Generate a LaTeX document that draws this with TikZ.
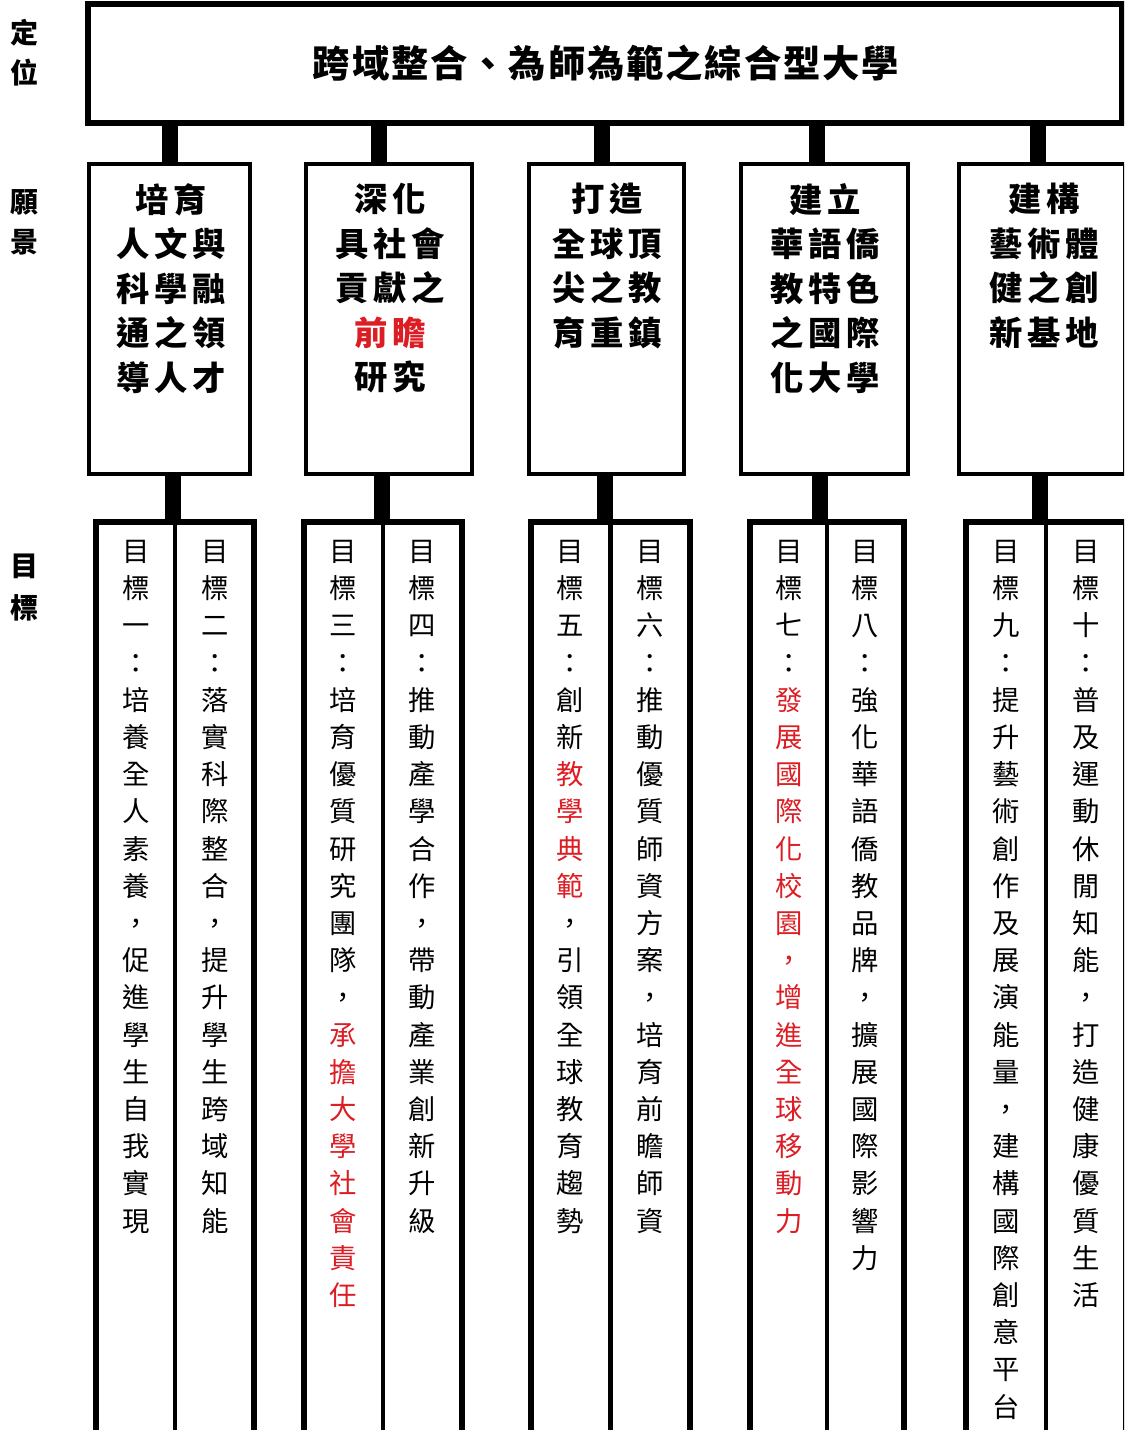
\documentclass[tikz,border=0pt]{standalone}
\usepackage{fontspec}
\setmainfont{Noto Sans CJK TC}
\usetikzlibrary{calc}
\definecolor{myred}{RGB}{220,30,36}
\newcommand\R[1]{\textcolor{myred}{#1}}
\makeatletter
\newcommand\vstack[1]{\@tfor\vchar:=#1\do{\vchar\\}}
\newcommand\vstackred[1]{\@tfor\vchar:=#1\do{\R{\vchar}\\}}
\makeatother
\begin{document}
\begin{tikzpicture}[x=0.75pt,y=-0.75pt,
 topbox/.style={draw,line width=3.8pt,inner sep=0,outer sep=0,minimum width=775.5pt,minimum height=89.25pt},
 visbox/.style={draw,line width=3pt,inner sep=0,outer sep=0,minimum height=232.5pt},
 pairbox/.style={draw,line width=4.3pt,inner sep=0,outer sep=0,minimum height=703.5pt},
 divider/.style={line width=3.3pt},
 stem/.style={line width=11.3pt},
 lbl/.style={font=\bfseries\fontsize{21}{30}\selectfont,align=center,anchor=north,inner sep=0},
 vistext/.style={font=\bfseries\fontsize{25}{33.4}\selectfont\addfontfeature{LetterSpace=14},align=center,anchor=north,inner sep=0,xshift=0.8pt},
 goaltext/.style={font=\fontsize{20.5}{27.9}\selectfont,align=center,anchor=north,inner sep=0},
 titletext/.style={font=\bfseries\fontsize{28}{36}\selectfont\addfontfeature{LetterSpace=5},inner sep=0,xshift=0pt}
]
\useasboundingbox (0,0) rectangle (1124,1430);
\clip (0,0) rectangle (1124,1430);
\fill[white] (0,0) rectangle (1124,1430);

% top box
\node[topbox] (top) at (605,63.5) {};
\node[titletext] (title) at (606,63) {跨域整合、為師為範之綜合型大學};

% vision boxes
\node[visbox,minimum width=120.75pt] (v1) at (169.5,319) {};
\node[visbox,minimum width=124.5pt] (v2) at (389,319) {};
\node[visbox,minimum width=116.25pt] (v3) at (606.5,319) {};
\node[visbox,minimum width=125.25pt] (v4) at (824.5,319) {};
\node[visbox,minimum width=124.5pt] (v5) at (1042,319) {};

\node[vistext] (vt1) at (170,183) {培育\\人文與\\科學融\\通之領\\導人才};
\node[vistext] (vt2) at (389,183) {深化\\具社會\\貢獻之\\\R{前瞻}\\研究};
\node[vistext] (vt3) at (606.5,183) {打造\\全球頂\\尖之教\\育重鎮};
\node[vistext] (vt4) at (824,183) {建立\\華語僑\\教特色\\之國際\\化大學};
\node[vistext] (vt5) at (1043,183) {建構\\藝術體\\健之創\\新基地};

% goal pair boxes
\node[pairbox,minimum width=118.5pt] (p1) at (175,991) {};
\node[pairbox,minimum width=118.5pt] (p2) at (383,991) {};
\node[pairbox,minimum width=119.25pt] (p3) at (610.5,991) {};
\node[pairbox,minimum width=115.5pt] (p4) at (827,991) {};
\node[pairbox,minimum width=120pt] (p5) at (1046,991) {};
\foreach \p in {p1,p2,p3,p4,p5} {\draw[divider] (\p.north) -- (\p.south);}

% stems
\coordinate (a1) at (170,0);
\coordinate (a2) at (379,0);
\coordinate (a3) at (602,0);
\coordinate (a4) at (817,0);
\coordinate (a5) at (1038,0);
\coordinate (b1) at (173,0);
\coordinate (b2) at (382,0);
\coordinate (b3) at (605,0);
\coordinate (b4) at (820,0);
\coordinate (b5) at (1040,0);
\draw[stem] (top.south -| a1) -- (v1.north -| a1);
\draw[stem] (top.south -| a2) -- (v2.north -| a2);
\draw[stem] (top.south -| a3) -- (v3.north -| a3);
\draw[stem] (top.south -| a4) -- (v4.north -| a4);
\draw[stem] (top.south -| a5) -- (v5.north -| a5);
\draw[stem] (v1.south -| b1) -- (p1.north -| b1);
\draw[stem] (v2.south -| b2) -- (p2.north -| b2);
\draw[stem] (v3.south -| b3) -- (p3.north -| b3);
\draw[stem] (v4.south -| b4) -- (p4.north -| b4);
\draw[stem] (v5.south -| b5) -- (p5.north -| b5);

% left labels
\node[lbl] (l1) at (24,19) {定\\位};
\node[lbl] (l2) at (24,189) {願\\景};
\node[lbl,font=\bfseries\fontsize{21}{31.5}\selectfont] (l3) at (24,554) {目\\標};

% goals
\node[goaltext] (g1) at (136,540) {\vstack{目標一：培養全人素養，促進學生自我實現}};
\node[goaltext] (g2) at (215,540) {\vstack{目標二：落實科際整合，提升學生跨域知能}};
\node[goaltext] (g3) at (343,540) {\vstack{目標三：培育優質研究團隊，}\vstackred{承擔大學社會責任}};
\node[goaltext] (g4) at (422,540) {\vstack{目標四：推動產學合作，帶動產業創新升級}};
\node[goaltext] (g5) at (570,540) {\vstack{目標五：創新}\vstackred{教學典範}\vstack{，引領全球教育趨勢}};
\node[goaltext] (g6) at (650,540) {\vstack{目標六：推動優質師資方案，培育前瞻師資}};
\node[goaltext] (g7) at (789,540) {\vstack{目標七：}\vstackred{發展國際化校園，增進全球移動力}};
\node[goaltext] (g8) at (865,540) {\vstack{目標八：強化華語僑教品牌，擴展國際影響力}};
\node[goaltext] (g9) at (1006,540) {\vstack{目標九：提升藝術創作及展演能量，建構國際創意平台}};
\node[goaltext] (g10) at (1086,540) {\vstack{目標十：普及運動休閒知能，打造健康優質生活}};
\end{tikzpicture}
\end{document}
